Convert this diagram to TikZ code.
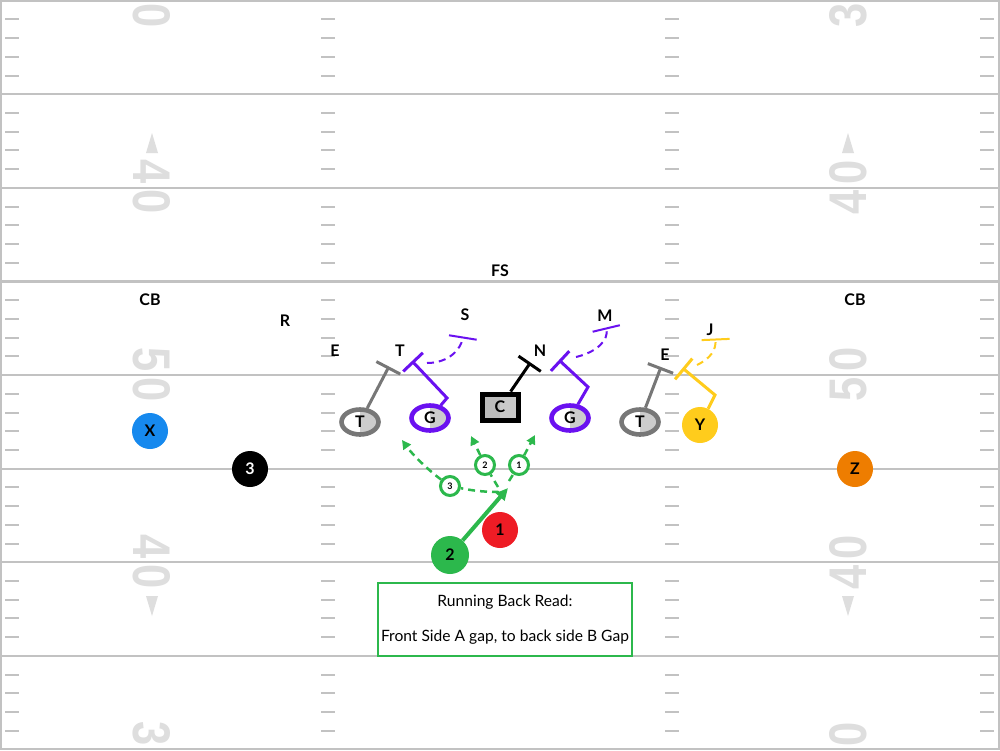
\documentclass[tikz,border=0pt]{standalone}
\usepackage{fontspec}
\setmainfont{Lato}
\newfontfamily\numfont{Liberation Sans}
\usetikzlibrary{shapes.geometric,arrows.meta}
\definecolor{fieldgray}{HTML}{C2C2C2}
\definecolor{numgray}{HTML}{DEDEDE}
\definecolor{pblue}{HTML}{1689EE}
\definecolor{pred}{HTML}{EE1C25}
\definecolor{pgreen}{HTML}{2CB84C}
\definecolor{pyellow}{HTML}{FFCC1C}
\definecolor{porange}{HTML}{EE7D00}
\definecolor{ppurple}{HTML}{6A11F0}
\definecolor{pgrayline}{HTML}{777777}
\definecolor{halfgray}{HTML}{CCCCCC}
\definecolor{cgray}{HTML}{BBBBBB}
\begin{document}
\begin{tikzpicture}[x=1pt,y=-1pt,
  yardline/.style={draw=fieldgray,line width=2.2pt},
  hashmark/.style={draw=fieldgray,line width=2pt},
  fieldnum/.style={text=numgray,inner sep=0pt,font=\numfont\bfseries\fontsize{53}{53}\selectfont},
  lineman/.style={ellipse,draw=#1,line width=4.6pt,minimum width=37pt,minimum height=25pt,inner sep=0pt,fill=white,
    path picture={\fill[halfgray] (path picture bounding box.north) rectangle (path picture bounding box.south east);},
    font=\bfseries\fontsize{16}{16}\selectfont},
  centerbox/.style={rectangle,draw=black,line width=5pt,minimum width=36pt,minimum height=26pt,inner sep=0pt,fill=cgray,
    path picture={\fill[halfgray!80!cgray] (path picture bounding box.north) rectangle (path picture bounding box.south east);},
    font=\bfseries\fontsize{16}{16}\selectfont},
  skill/.style={circle,fill=#1,minimum size=36pt,inner sep=0pt,font=\bfseries\fontsize{16}{16}\selectfont},
  deflabel/.style={inner sep=1pt,font=\bfseries\fontsize{16}{16}\selectfont},
  block/.style={draw=#1,line width=3pt,-{Bar[width=27pt,line width=3pt]}},
  blockdash/.style={draw=#1,line width=2pt,dash pattern=on 7pt off 5pt,-{Bar[width=28pt,line width=2pt]}},
  greenrun/.style={draw=pgreen,line width=4pt,-{Triangle[length=12pt,width=11pt]}},
  greendash/.style={draw=pgreen,line width=2.5pt,dash pattern=on 7pt off 5pt,-{Triangle[length=9pt,width=9pt]}},
  option/.style={circle,draw=pgreen,line width=3pt,fill=white,minimum size=19pt,inner sep=0pt,font=\bfseries\fontsize{9}{9}\selectfont}
]
\useasboundingbox (0,0) rectangle (1000,750);
\fill[white] (0,0) rectangle (1000,750);
% ---------- field ----------
\begin{scope}
\clip (0,0) rectangle (1000,750);
\foreach \k in {1,...,7} \draw[yardline] (0,{93.6*\k+0.7}) -- (1000,{93.6*\k+0.7});
\foreach \k in {0,...,7} \foreach \i in {1,2,3,4} {
  \pgfmathsetmacro\yy{18.72*(5*\k+\i)+0.7}
  \draw[hashmark] (5,\yy) -- (19,\yy);
  \draw[hashmark] (321,\yy) -- (335,\yy);
  \draw[hashmark] (665,\yy) -- (679,\yy);
  \draw[hashmark] (980,\yy) -- (994,\yy);
}
\node[fieldnum,rotate=-90] (nl30a) at (152,0.5) {\scalebox{0.82}[1]{3\kern7pt0}};
\node[fieldnum,rotate=-90] (nl40a) at (152,187) {\scalebox{0.82}[1]{4\kern7pt0}};
\node[fieldnum,rotate=-90] (nl50) at (152,374.5) {\scalebox{0.82}[1]{5\kern7pt0}};
\node[fieldnum,rotate=-90] (nl40b) at (152,562) {\scalebox{0.82}[1]{4\kern7pt0}};
\node[fieldnum,rotate=-90] (nl30b) at (152,749) {\scalebox{0.82}[1]{3\kern7pt0}};
\node[fieldnum,rotate=90] (nr30a) at (848,0.5) {\scalebox{0.82}[1]{3\kern7pt0}};
\node[fieldnum,rotate=90] (nr40a) at (848,187) {\scalebox{0.82}[1]{4\kern7pt0}};
\node[fieldnum,rotate=90] (nr50) at (848,374.5) {\scalebox{0.82}[1]{5\kern7pt0}};
\node[fieldnum,rotate=90] (nr40b) at (848,562) {\scalebox{0.82}[1]{4\kern7pt0}};
\node[fieldnum,rotate=90] (nr30b) at (848,749) {\scalebox{0.82}[1]{3\kern7pt0}};
\fill[numgray] (146,153) -- (158,153) -- (152,133) -- cycle;
\fill[numgray] (842,153) -- (854,153) -- (848,133) -- cycle;
\fill[numgray] (146,596) -- (158,596) -- (152,616) -- cycle;
\fill[numgray] (842,596) -- (854,596) -- (848,616) -- cycle;
\end{scope}
\draw[yardline] (1,1) rectangle (999,749);
% ---------- defense labels ----------
\node[deflabel,fill=white,inner sep=3pt] (fs) at (500,271) {FS};
\node[deflabel] (cbl) at (150,300) {CB};
\node[deflabel] (cbr) at (855,300) {CB};
\node[deflabel] (r) at (285,321) {R};
\node[deflabel] (el) at (335,351) {E};
\node[deflabel] (tl) at (400,351) {T};
\node[deflabel] (s) at (465,315) {S};
\node[deflabel] (n) at (540,351) {N};
\node[deflabel] (m) at (605,316) {M};
\node[deflabel] (j) at (710,330) {J};
\node[deflabel] (er) at (665,355) {E};
% ---------- offense ----------
\node[lineman=pgrayline] (lt) at (360,422) {T};
\node[lineman=ppurple] (lg) at (430,418) {G};
\node[centerbox] (c) at (500,407) {C};
\node[lineman=ppurple] (rg) at (570,418) {G};
\node[lineman=pgrayline] (rt) at (640,422) {T};
\node[skill=pyellow] (y) at (700,425) {Y};
\node[skill=pblue] (x) at (150,431) {X};
\node[skill=black,text=white] (three) at (250,469) {3};
\node[skill=porange] (z) at (855,469) {Z};
\node[skill=pred] (one) at (500,530) {1};
\node[skill=pgreen,minimum size=38pt] (rb) at (450,555) {2};
% ---------- blocking ----------
\coordinate (ltEnd) at (389,366.5);
\coordinate (lgElbow) at (447,398);
\coordinate (lgEnd) at (412,361);
\coordinate (lgDash) at (427,363);
\coordinate (sEnd) at (463,336.5);
\coordinate (cEnd) at (530.5,362.5);
\coordinate (rgElbow) at (588,387);
\coordinate (rgEnd) at (559,360);
\coordinate (rgDash) at (576,357);
\coordinate (mEnd) at (606,327.5);
\coordinate (rtEnd) at (661,367);
\coordinate (yElbow) at (715,395);
\coordinate (yEnd) at (682.5,368);
\coordinate (yDash) at (697,365);
\coordinate (jEnd) at (715.5,338.5);
\draw[block=pgrayline] (lt) -- (ltEnd);
\draw[block=ppurple] (lg) -- (lgElbow) -- (lgEnd);
\draw[blockdash=ppurple] (lgDash) .. controls (449,363) and (461,349) .. (sEnd);
\draw[block=black] (c) -- (cEnd);
\draw[block=ppurple] (rg) -- (rgElbow) -- (rgEnd);
\draw[blockdash=ppurple] (rgDash) .. controls (597,352) and (609,340) .. (mEnd);
\draw[block=pgrayline] (rt) -- (rtEnd);
\draw[block=pyellow] (y) -- (yElbow) -- (yEnd);
\draw[blockdash=pyellow] (yDash) .. controls (711,358) and (716,350) .. (jEnd);
% ---------- running back read ----------
\coordinate (mesh) at (508,488);
\coordinate (o1s) at (509,481);
\coordinate (o1e) at (535,435);
\coordinate (o2s) at (498,487);
\coordinate (o2e) at (471,436);
\coordinate (o3s) at (499,492);
\coordinate (o3e) at (402,440);
\node[option] (r1) at (519,465) {1};
\node[option] (r2) at (485,465) {2};
\node[option] (r3) at (450,486) {3};
\draw[greenrun] (rb) -- (mesh);
\draw[greendash,-] (o1s) -- (r1);
\draw[greendash] (r1) -- (o1e);
\draw[greendash,-] (o2s) -- (r2);
\draw[greendash] (r2) -- (o2e);
\draw[greendash,-] (o3s) .. controls (478,492) and (465,489) .. (r3);
\draw[greendash] (r3) .. controls (428,470) and (412,454) .. (o3e);
% ---------- note ----------
\node[draw=pgreen,line width=2pt,fill=white,minimum width=254pt,minimum height=73pt,align=center,
  font=\fontsize{15.6}{18}\selectfont] (note) at (505,619.5) {Running Back Read:\\[17pt]Front Side A gap, to back side B Gap};
\end{tikzpicture}
\end{document}
